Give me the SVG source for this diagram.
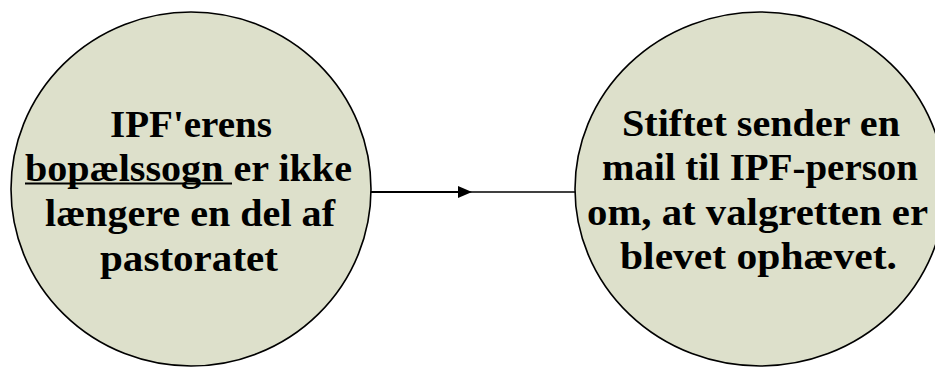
<svg xmlns="http://www.w3.org/2000/svg" width="935" height="367" viewBox="0 0 935 367">
<defs>
<style>
.node{fill:#dde0cb;stroke:#000;stroke-width:1.6}
.t{font-family:"Liberation Serif","Times New Roman",serif;font-weight:bold;font-size:37px;fill:#000;text-anchor:middle}
.conn{stroke:#000;fill:none}
</style>
<marker id="arr" viewBox="0 0 14 12" refX="0" refY="6" markerWidth="14" markerHeight="12" markerUnits="userSpaceOnUse" orient="auto">
<path d="M0,0 L14,6 L0,12 Z" fill="#000"/>
</marker>
</defs>
<rect width="935" height="367" fill="#fff"/>
<g id="connectors">
<line class="conn" x1="371" y1="192" x2="458" y2="192" stroke-width="2" marker-end="url(#arr)"/>
<line class="conn" x1="470" y1="192" x2="577" y2="192" stroke-width="1.3"/>
</g>
<g id="node1">
<ellipse class="node" cx="191" cy="189" rx="180" ry="177"/>
<text class="t" x="191" y="137" textLength="162" lengthAdjust="spacingAndGlyphs">IPF'erens</text>
<text class="t" x="188.5" y="181" textLength="327" lengthAdjust="spacingAndGlyphs">bopælssogn er ikke</text>
<line x1="25" y1="183.5" x2="232" y2="183.5" stroke="#000" stroke-width="2"/>
<text class="t" x="190" y="226" textLength="290" lengthAdjust="spacingAndGlyphs">længere en del af</text>
<text class="t" x="189" y="271" textLength="178" lengthAdjust="spacingAndGlyphs">pastoratet</text>
</g>
<g id="node2">
<ellipse class="node" cx="760" cy="189" rx="185" ry="177"/>
<text class="t" x="761" y="136" textLength="278" lengthAdjust="spacingAndGlyphs">Stiftet sender en</text>
<text class="t" x="760" y="180" textLength="316" lengthAdjust="spacingAndGlyphs">mail til IPF-person</text>
<text class="t" x="757.5" y="225" textLength="341" lengthAdjust="spacingAndGlyphs">om, at valgretten er</text>
<text class="t" x="758.5" y="269" textLength="277" lengthAdjust="spacingAndGlyphs">blevet ophævet.</text>
</g>
</svg>
